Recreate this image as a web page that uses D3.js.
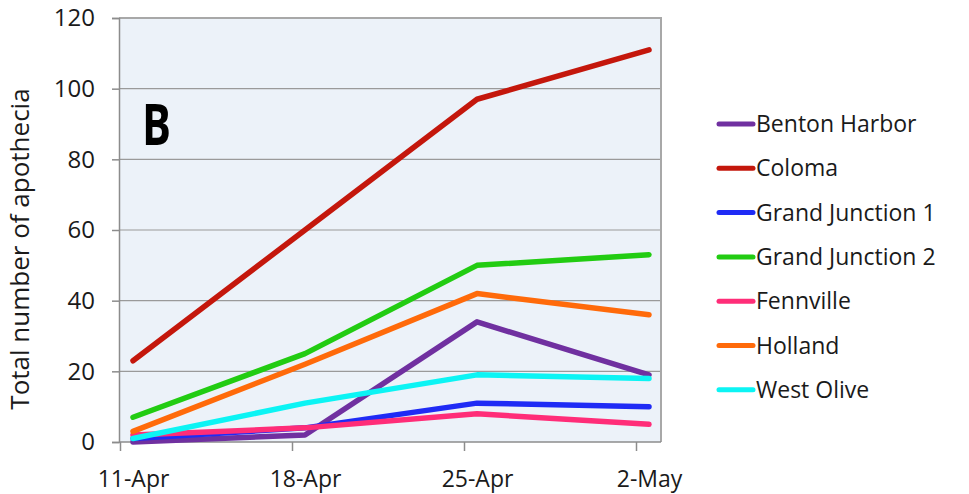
<!DOCTYPE html>
<html>
<head>
<meta charset="utf-8">
<script src="https://cdn.jsdelivr.net/npm/d3@7"></script>
<style>
    body { margin: 0; background: #ffffff; }
    svg text { font-family: "Open Sans", sans-serif; fill: #1a1a1a; }
</style>
</head>
<body>
<svg class="chart" width="969" height="494"></svg>
<script>
// categories
let dates = ["11-Apr", "18-Apr", "25-Apr", "2-May"];
let yTicks = [0, 20, 40, 60, 80, 100, 120];

// series (total number of apothecia per site)
let seriesNames = ["Benton Harbor", "Coloma", "Grand Junction 1", "Grand Junction 2", "Fennville", "Holland", "West Olive"];
let bentonHarbor = [0, 2, 34, 19];
let coloma = [23, 60, 97, 111];
let grandJunction1 = [1, 4, 11, 10];
let grandJunction2 = [7, 25, 50, 53];
let fennville = [2, 4, 8, 5];
let holland = [3, 22, 42, 36];
let westOlive = [1, 11, 19, 18];

let seriesColors = ["#7030A0", "#C4170C", "#1F2BF5", "#22CC12", "#FF2D78", "#FF6A0A", "#0CF4F4"];

let seriesValues = [bentonHarbor, coloma, grandJunction1, grandJunction2, fennville, holland, westOlive];
let series = seriesNames.map(function (name, i) {
    return {
        name: name,
        color: seriesColors[i],
        values: seriesValues[i].map(function (v, j) {
            return {date: dates[j], value: v};
        })
    };
});

let svg = d3.select(".chart"),
    plot = {left: 119, right: 661, top: 18, bottom: 442},
    pointInset = 14,   // Excel draws the points a bit right of the tick marks
    tickShift = 13;

let x = d3.scalePoint()
    .domain(dates)
    .range([plot.left + pointInset, plot.right - 12]);

let y = d3.scaleLinear()
    .domain([0, 120])
    .range([plot.bottom, plot.top]);

// plot area background
svg.append("rect")
    .attr("x", plot.left)
    .attr("y", plot.top)
    .attr("width", plot.right - plot.left)
    .attr("height", plot.bottom - plot.top)
    .attr("fill", "#ECF2F9");

// gridlines
svg.append("g")
    .selectAll("line")
    .data(yTicks.filter(function (d) { return d > 0 && d < 120; }))
    .enter().append("line")
    .attr("x1", plot.left)
    .attr("x2", plot.right)
    .attr("y1", function (d) { return y(d); })
    .attr("y2", function (d) { return y(d); })
    .attr("stroke", "#9a9a9a")
    .attr("stroke-width", 1.2);

// border top + right
svg.append("path")
    .attr("d", "M" + plot.left + "," + plot.top + "H" + plot.right + "V" + plot.bottom)
    .attr("fill", "none")
    .attr("stroke", "#a8a8a8")
    .attr("stroke-width", 2);

// y axis
let yAxis = svg.append("g")
    .attr("transform", "translate(" + plot.left + ",0)")
    .call(d3.axisLeft(y).tickValues(yTicks).tickSize(7).tickPadding(17));
yAxis.select(".domain").attr("stroke", "#8c8c8c").attr("stroke-width", 1.5);
yAxis.selectAll(".tick line").attr("stroke", "#8c8c8c").attr("stroke-width", 1.5);
yAxis.selectAll(".tick text")
    .attr("font-family", "Open Sans")
    .attr("font-size", "24px")
    .attr("fill", "#1a1a1a");

// x axis: labels under the points, tick marks shifted left
let xAxis = svg.append("g")
    .attr("transform", "translate(0," + plot.bottom + ")")
    .call(d3.axisBottom(x).tickSize(0).tickPadding(29));
xAxis.select(".domain")
    .attr("d", "M" + plot.left + ",0H" + plot.right)
    .attr("stroke", "#8c8c8c")
    .attr("stroke-width", 1.5);
xAxis.selectAll(".tick text")
    .attr("font-family", "Open Sans")
    .attr("font-size", "23px")
    .attr("fill", "#1a1a1a");
xAxis.selectAll(".tick")
    .append("line")
    .attr("x1", -tickShift)
    .attr("x2", -tickShift)
    .attr("y1", 0)
    .attr("y2", 9)
    .attr("stroke", "#8c8c8c")
    .attr("stroke-width", 1.5);

// y title
svg.append("text")
    .attr("transform", "translate(29," + ((plot.top + plot.bottom) / 2 + 19) + ") rotate(-90)")
    .attr("text-anchor", "middle")
    .attr("font-size", "26px")
    .text("Total number of apothecia");

// panel letter
svg.append("text")
    .attr("x", 142)
    .attr("y", 145)
    .attr("font-family", "Lato")
    .attr("font-weight", "bold")
    .attr("font-size", "58px")
    .attr("textLength", 29)
    .attr("lengthAdjust", "spacingAndGlyphs")
    .style("fill", "#000")
    .text("B");

// lines
let line = d3.line()
    .x(function (d) { return x(d.date); })
    .y(function (d) { return y(d.value); });

svg.append("g")
    .selectAll("path")
    .data(series)
    .enter().append("path")
    .attr("d", function (d) { return line(d.values); })
    .attr("fill", "none")
    .attr("stroke", function (d) { return d.color; })
    .attr("stroke-width", 5.5)
    .attr("stroke-linecap", "round")
    .attr("stroke-linejoin", "round");

// legend
let legend = svg.append("g")
    .selectAll("g")
    .data(series)
    .enter().append("g")
    .attr("transform", function (d, i) {
        return "translate(719," + (124 + i * 44.3) + ")";
    });

legend.append("line")
    .attr("x1", 0)
    .attr("x2", 34)
    .attr("stroke", function (d) { return d.color; })
    .attr("stroke-width", 5)
    .attr("stroke-linecap", "round");

legend.append("text")
    .attr("x", 37)
    .attr("y", 8)
    .attr("font-size", "23px")
    .text(function (d) { return d.name; });
</script>
</body>
</html>
